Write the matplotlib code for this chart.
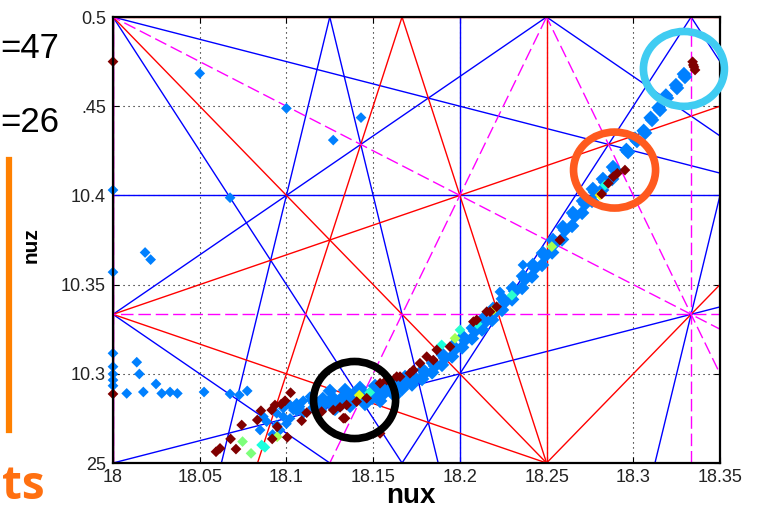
import numpy as np
import matplotlib
matplotlib.use('Agg')
from matplotlib import pyplot as plt
from matplotlib.patches import Ellipse
from matplotlib.lines import Line2D

# axes
xticks = [18.0, 18.05, 18.1, 18.15, 18.2, 18.25, 18.3, 18.35]
xticklabels = ['18', '18.05', '18.1', '18.15', '18.2', '18.25', '18.3', '18.35']
yticks = [10.25, 10.3, 10.35, 10.4, 10.45, 10.5]
yticklabels = ['25', '10.3', '10.35', '10.4', '.45', '0.5']

# resonance lines a*nux + b*nuz = p with |a|+|b| = order
orders = [5, 4, 3]
order_colors = ['#0000FF', '#FF0000', '#FF00FF']
order_dashed = [False, False, True]

# tunes, blue, scattered
blue_nux = [18.000, 18.000, 18.000, 18.000, 18.000, 18.000, 18.000,
            18.050, 18.100, 18.127, 18.143, 18.0675,
            18.0185, 18.0217, 18.0137, 18.0152, 18.0079, 18.0175, 18.0248,
            18.0281, 18.0329, 18.0371, 18.0525, 18.0675, 18.0728, 18.0774,
            18.0848, 18.0886, 18.0944, 18.0982, 18.1021, 18.1059, 18.1078,
            18.1097, 18.1136, 18.0944, 18.0982, 18.1021, 18.1040, 18.0963,
            18.0867, 18.0920, 18.1000, 18.1060, 18.1150, 18.1100,
            18.2364, 18.2231]
blue_nuz = [10.403, 10.357, 10.3115, 10.304, 10.2999, 10.2965, 10.2933,
            10.4684, 10.4488, 10.431, 10.4436, 10.3987,
            10.368, 10.364, 10.3065, 10.2999, 10.289, 10.2898, 10.2943,
            10.289, 10.2898, 10.289, 10.2898, 10.2887, 10.2881, 10.2904,
            10.2685, 10.2732, 10.2779, 10.2807, 10.2825, 10.2835, 10.2816,
            10.2849, 10.2872, 10.2713, 10.2760, 10.2750, 10.2797, 10.2685,
            10.2760, 10.2660, 10.2720, 10.2790, 10.2810, 10.2780,
            10.3610, 10.3459]

# tunes, blue, dense band
band_nux = [18.1153, 18.1210, 18.1268, 18.1326, 18.1383, 18.1441, 18.1499,
            18.1556, 18.1614, 18.1672, 18.1729, 18.1787, 18.1845, 18.1902,
            18.1960, 18.2018, 18.2075, 18.2133, 18.2191, 18.2248, 18.2306,
            18.2364, 18.2421, 18.2479, 18.2537, 18.2594, 18.2652, 18.2710,
            18.2767, 18.2825, 18.2883,
            18.1165, 18.1222, 18.1280, 18.1338, 18.1395, 18.1453, 18.1511,
            18.1568, 18.1626, 18.1684, 18.1741, 18.1799, 18.1857, 18.1914,
            18.1972, 18.2030, 18.2087, 18.2145, 18.2203, 18.2260, 18.2318,
            18.2376, 18.2433, 18.2491, 18.2549, 18.2606, 18.2664, 18.2722,
            18.2779, 18.2837, 18.2895,
            18.1205, 18.1263, 18.1321, 18.1378, 18.1436, 18.1494, 18.1551,
            18.1609, 18.1667, 18.1724, 18.1782, 18.1840, 18.1897, 18.1955,
            18.2013, 18.2070, 18.2128, 18.2186, 18.2243, 18.2301, 18.2359,
            18.2416, 18.2474, 18.2532, 18.2589, 18.2647, 18.2705, 18.2762,
            18.2820, 18.2878,
            18.1194, 18.1280, 18.1367, 18.1453, 18.1540, 18.1626,
            18.1251, 18.1338, 18.1424, 18.1511, 18.1597, 18.1684,
            18.2970, 18.2960, 18.3021, 18.3010, 18.3068, 18.3060, 18.3108,
            18.3100, 18.3154, 18.3146, 18.3194, 18.3188, 18.3252, 18.3246,
            18.3298, 18.3292]
band_nuz = [10.2853, 10.2859, 10.2865, 10.2870, 10.2882, 10.2893, 10.2904,
            10.2921, 10.2938, 10.2960, 10.2988, 10.3022, 10.3061, 10.3106,
            10.3156, 10.3207, 10.3257, 10.3307, 10.3364, 10.3420, 10.3481,
            10.3548, 10.3610, 10.3677, 10.3750, 10.3823, 10.3902, 10.3969,
            10.4036, 10.4092, 10.4159,
            10.2836, 10.2842, 10.2848, 10.2853, 10.2865, 10.2876, 10.2887,
            10.2904, 10.2921, 10.2943, 10.2971, 10.3005, 10.3044, 10.3089,
            10.3139, 10.3190, 10.3240, 10.3290, 10.3347, 10.3403, 10.3464,
            10.3531, 10.3593, 10.3660, 10.3733, 10.3806, 10.3885, 10.3952,
            10.4019, 10.4075, 10.4142,
            10.2822, 10.2828, 10.2834, 10.2842, 10.2854, 10.2865, 10.2879,
            10.2896, 10.2915, 10.2940, 10.2971, 10.3008, 10.3050, 10.3097,
            10.3148, 10.3198, 10.3248, 10.3302, 10.3358, 10.3417, 10.3481,
            10.3545, 10.3610, 10.3680, 10.3753, 10.3829, 10.3902, 10.3969,
            10.4030, 10.4092,
            10.2797, 10.2803, 10.2820, 10.2831, 10.2848, 10.2876,
            10.2904, 10.2909, 10.2921, 10.2932, 10.2954, 10.2982,
            10.4243, 10.4255, 10.4305, 10.4318, 10.4350, 10.4362, 10.4423,
            10.4435, 10.4479, 10.4492, 10.4546, 10.4560, 10.4602, 10.4618,
            10.4664, 10.4680]

# tunes, dark red group
red_nux = [18.0000, 18.0000,
           18.0594, 18.0617, 18.0709, 18.0678, 18.0742, 18.0832, 18.0853,
           18.0915, 18.0934, 18.0992, 18.1024, 18.1005, 18.0918, 18.1088,
           18.1117, 18.0947, 18.0970,
           18.1203, 18.1270, 18.1309, 18.1347, 18.1405, 18.1463, 18.1328,
           18.1540, 18.1578, 18.1636, 18.1655, 18.1770, 18.1809, 18.1732,
           18.1597, 18.1338, 18.1540,
           18.1712, 18.1847, 18.1943, 18.2097, 18.2174, 18.2212, 18.1867,
           18.2078, 18.2155,
           18.2577, 18.2818, 18.2856, 18.2885, 18.2908, 18.2952,
           18.3346, 18.3356, 18.3342, 18.3350]
red_nuz = [10.2887, 10.4750,
           10.2563, 10.2582, 10.2578, 10.2635, 10.2713, 10.2741, 10.2793,
           10.2797, 10.2825, 10.2849, 10.2894, 10.2644, 10.2635, 10.2737,
           10.2782, 10.2703, 10.2830,
           10.2788, 10.2797, 10.2812, 10.2825, 10.2844, 10.2863, 10.2751,
           10.2947, 10.2965, 10.2984, 10.2984, 10.3059, 10.3096, 10.3021,
           10.2965, 10.2751, 10.2666,
           10.3003, 10.3077, 10.3152, 10.3302, 10.3348, 10.3376, 10.3134,
           10.3292, 10.3348,
           10.3750, 10.4008, 10.4068, 10.4105, 10.4124, 10.4142,
           10.4731, 10.4703, 10.4749, 10.4720]

# tunes, other colour values (jet scale)
mid_nux = [18.0747, 18.0796, 18.0947, 18.0876, 18.0857, 18.1420, 18.1480,
           18.1895, 18.1972, 18.2001, 18.2193, 18.2530, 18.2808, 18.2837,
           18.2100, 18.2300]
mid_nuz = [10.2620, 10.2554, 10.2647, 10.2588, 10.2601, 10.2880, 10.2895,
           10.3162, 10.3199, 10.3246, 10.3358, 10.3713, 10.4002, 10.4058,
           10.3280, 10.3440]
mid_val = [0.5, 0.5, 0.55, 0.38, 0.38, 0.62, 0.4,
           0.38, 0.55, 0.4, 0.6, 0.55, 0.65, 0.38,
           0.38, 0.4]

# highlight rings
ring_nux = [18.1393, 18.2892, 18.3292]
ring_nuz = [10.2853, 10.4142, 10.4709]
ring_w = [0.0473, 0.0473, 0.0467]
ring_h = [0.0432, 0.0426, 0.0420]
ring_colors = ['black', '#FF5A1E', '#40CCF2']

plt.rcParams['font.family'] = ['Liberation Sans', 'DejaVu Sans']

fig = plt.figure(figsize=(7.58, 5.12), dpi=100)
ax = fig.add_axes([113 / 758, 1 - 463 / 512, 607 / 758, 446 / 512])
xmin, xmax = 18.0, 18.35
ymin, ymax = 10.25, 10.5
ax.set_xlim(xmin, xmax)
ax.set_ylim(ymin, ymax)

# resonance lines
corners = [(xmin, ymin), (xmin, ymax), (xmax, ymin), (xmax, ymax)]
for order, col, dashed in zip(orders, order_colors, order_dashed):
    ls = (0, (9, 3.5)) if dashed else '-'
    for a in range(order + 1):
        b = order - a
        for bb in ([b, -b] if (a > 0 and b > 0) else [b]):
            vals = [a * x + bb * y for x, y in corners]
            for p in range(int(np.ceil(min(vals) - 1e-9)), int(np.floor(max(vals) + 1e-9)) + 1):
                if bb == 0:
                    ax.axvline(p / a, color=col, lw=1.0, ls=ls, zorder=2)
                else:
                    xs = np.array([xmin - 0.1, xmax + 0.1])
                    ax.plot(xs, (p - a * xs) / bb, color=col, lw=1.0, ls=ls, zorder=2)

ax.grid(True, color='black', linestyle=(0, (1, 3.5)), lw=0.8)
ax.set_axisbelow(True)

ax.scatter(blue_nux, blue_nuz, s=30, marker='D', c='#0080FF', edgecolors='none',
           zorder=4, clip_on=False)
ax.scatter(band_nux, band_nuz, s=55, marker='D', c='#0080FF', edgecolors='none',
           zorder=4)
ax.scatter(mid_nux, mid_nuz, s=30, marker='D', c=mid_val, cmap='jet', vmin=0, vmax=1,
           edgecolors='none', zorder=5, clip_on=False)
ax.scatter(red_nux, red_nuz, s=30, marker='D', c='#800000', edgecolors='none',
           zorder=6, clip_on=False)

for x, y, w, h, col in zip(ring_nux, ring_nuz, ring_w, ring_h, ring_colors):
    ax.add_patch(Ellipse((x, y), w, h, fill=False, ec=col, lw=5.5, zorder=8, clip_on=False))

ax.set_xticks(xticks)
ax.set_xticklabels(xticklabels)
ax.set_yticks(yticks)
ax.set_yticklabels(yticklabels)
ax.tick_params(direction='in', length=4, width=0.8, labelsize=13, labelcolor='#222222',
               top=True, right=True, pad=4)
ax.tick_params(axis='y', pad=5)
for sp in ax.spines.values():
    sp.set_linewidth(1.6)
    sp.set_color('black')
    sp.set_zorder(7)

ax.set_xlabel('nux', fontsize=20, fontweight='bold')
ax.xaxis.set_label_coords(0.491, -0.044)
ax.set_ylabel('nuz', fontsize=15, fontweight='bold')
ax.yaxis.set_label_coords(-0.120, 0.489)

# slide fragments on the left
fig.text(0 / 758, 1 - 48 / 512, '=47', fontsize=25, ha='left', va='center')
fig.text(0 / 758, 1 - 123 / 512, '=26', fontsize=25, ha='left', va='center')
fig.add_artist(Line2D([8.5 / 758, 8.5 / 758], [1 - 160 / 512, 1 - 430 / 512],
                      color='#FF8000', lw=4.5))
fig.text(0.002, 0.004, 'ts', fontsize=33, fontweight='bold', color='#FF7010',
         family=['Open Sans', 'DejaVu Sans'], ha='left', va='bottom')

fig.savefig('out.png', dpi=100)
